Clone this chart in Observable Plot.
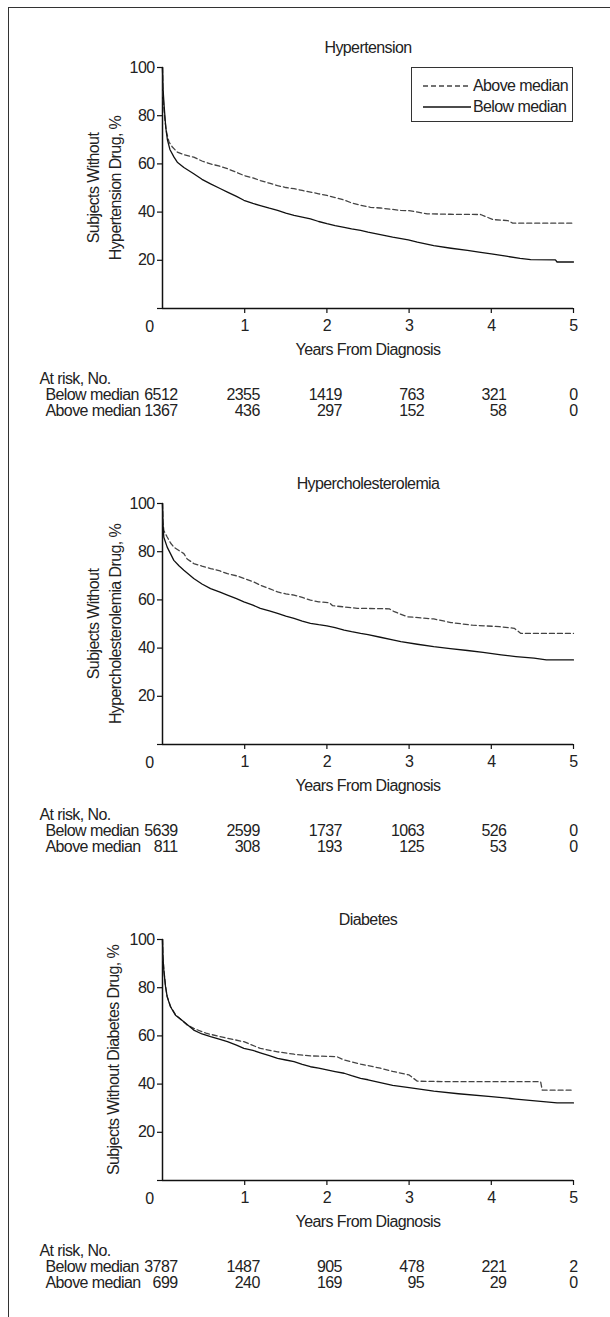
<!DOCTYPE html>
<html>
<head>
<meta charset="utf-8">
<script src="https://cdn.jsdelivr.net/npm/d3@7"></script>
<script src="https://cdn.jsdelivr.net/npm/@observablehq/plot@0.6"></script>
<style>
  html, body { margin: 0; padding: 0; background: #fff; overflow: hidden; }
  body { width: 610px; height: 1317px; position: relative;
         font-family: "Liberation Sans", Arial, sans-serif; color: #222; }
  #frame { position: absolute; left: 8px; top: 7px; width: 800px; height: 1400px; z-index: 5;
           border-left: 1.5px solid #333; border-top: 1.5px solid #333; pointer-events: none; }
  .panel { position: absolute; left: 0; width: 610px; height: 436px; }
  .legend { position: absolute; left: 411px; top: 67px; width: 162px; height: 55px;
            border: 1px solid #333; background: #fff; box-sizing: border-box;
            font-size: 16px; letter-spacing: -0.6px; white-space: nowrap; }
  .legend .row { position: absolute; left: 0; height: 20px; display: flex; align-items: center; }
  .legend svg { width: 51px; height: 20px; margin-left: 9px; flex: none; }
  .legend span { margin-left: 1px; line-height: 20px; }
</style>
</head>
<body>
<div id="root"></div>
<div id="frame"></div>
<script>
// ---- Data ----
const years = [0, 1, 2, 3, 4, 5];
const groups = ["Below median", "Above median"];
const titles = ["Hypertension", "Hypercholesterolemia", "Diabetes"];
const yLabels = [
  ["Subjects Without", "Hypertension Drug, %"],
  ["Subjects Without", "Hypercholesterolemia Drug, %"],
  ["Subjects Without Diabetes Drug, %"]
];
const yTicks = [0, 20, 40, 60, 80, 100];
const xTicks = [1, 2, 3, 4, 5];

// Kaplan-Meier curves: [years, % without drug]
const hypertensionBelow = [[0,100],[0.005,92],[0.02,84],[0.04,75],[0.06,70],[0.09,66],[0.14,62.8],[0.18,60.7],[0.26,58.5],[0.38,55.9],[0.48,53.6],[0.585,51.7],[0.7,49.8],[0.79,48.3],[0.9,46.5],[0.99,44.9],[1.1,43.6],[1.19,42.7],[1.3,41.6],[1.4,40.7],[1.5,39.6],[1.6,38.6],[1.7,37.9],[1.8,37.2],[1.9,36.1],[2.0,35.2],[2.1,34.4],[2.21,33.7],[2.3,33.0],[2.41,32.4],[2.5,31.7],[2.65,30.7],[2.8,29.6],[2.99,28.5],[3.1,27.5],[3.3,26.1],[3.51,25.0],[3.71,24.1],[3.85,23.4],[4.0,22.7],[4.2,21.6],[4.35,20.8],[4.48,20.3],[4.78,20.2],[4.8,19.3],[5.0,19.3]];
const hypertensionAbove = [[0,100],[0.005,90],[0.015,84],[0.03,78],[0.05,73],[0.08,69],[0.12,67],[0.18,64.9],[0.26,63.8],[0.38,62.8],[0.48,61.2],[0.585,60.0],[0.7,59.0],[0.79,58.0],[0.9,56.5],[0.99,55.2],[1.1,54.2],[1.19,53.1],[1.3,52],[1.4,51.0],[1.5,50.2],[1.6,49.7],[1.7,49.0],[1.8,48.3],[1.9,47.6],[2.0,46.9],[2.1,46.0],[2.21,45.0],[2.3,43.8],[2.41,42.8],[2.53,42.0],[2.65,41.7],[2.9,40.7],[3.0,40.6],[3.22,39.3],[3.5,39.1],[3.87,39.0],[4.02,36.9],[4.2,36.5],[4.26,35.4],[5.0,35.4]];
const cholesterolBelow = [[0,100],[0.005,92],[0.016,86],[0.057,81.9],[0.1,79],[0.138,76.4],[0.2,74.2],[0.26,72.3],[0.38,68.9],[0.48,66.6],[0.585,64.7],[0.7,63.2],[0.79,62.0],[0.9,60.5],[0.99,59.2],[1.1,57.8],[1.19,56.5],[1.3,55.4],[1.4,54.4],[1.5,53.3],[1.6,52.3],[1.7,51.2],[1.8,50.3],[1.9,49.7],[2.0,49.2],[2.1,48.5],[2.21,47.5],[2.3,46.8],[2.41,46.1],[2.5,45.6],[2.65,44.5],[2.8,43.4],[2.9,42.7],[3.1,41.6],[3.3,40.6],[3.5,39.8],[3.71,39.0],[3.9,38.2],[4.12,37.2],[4.3,36.5],[4.52,35.8],[4.67,35.1],[5.0,35.1]];
const cholesterolAbove = [[0,100],[0.005,93],[0.016,88.8],[0.057,86.1],[0.1,83.5],[0.138,81.9],[0.2,80.5],[0.26,79.2],[0.3,77],[0.38,75.1],[0.48,74],[0.585,73.0],[0.7,72],[0.79,70.9],[0.9,70],[0.99,68.9],[1.1,67.6],[1.19,66.1],[1.3,64.7],[1.4,63.3],[1.5,62.5],[1.6,62.0],[1.7,61],[1.8,59.9],[1.9,59.2],[2.03,58.8],[2.07,57.6],[2.37,56.5],[2.76,56.3],[2.82,55.1],[2.98,53.0],[3.3,52.1],[3.51,50.6],[3.77,49.5],[4.1,48.9],[4.28,48.2],[4.36,46.1],[5.0,46.1]];
const diabetesBelow = [[0,100],[0.005,93],[0.016,87.3],[0.037,80.4],[0.057,76.2],[0.097,72.1],[0.158,68.6],[0.26,65.9],[0.38,62.4],[0.48,60.8],[0.585,59.7],[0.7,58.6],[0.79,57.6],[0.9,56.2],[0.99,54.8],[1.1,54],[1.19,53.0],[1.3,51.8],[1.4,50.7],[1.5,50],[1.6,49.3],[1.7,48.2],[1.8,47.2],[1.9,46.6],[2.0,45.9],[2.1,45.2],[2.21,44.5],[2.3,43.5],[2.41,42.4],[2.5,41.8],[2.65,40.6],[2.8,39.5],[3.0,38.5],[3.3,37.1],[3.6,36.0],[4.0,34.8],[4.3,33.8],[4.6,32.8],[4.8,32.2],[5.0,32.2]];
const diabetesAbove = [[0,100],[0.005,93],[0.016,87.5],[0.037,80.6],[0.057,76.4],[0.097,72.3],[0.158,68.8],[0.3,64.5],[0.38,63.1],[0.54,61.0],[0.79,59.0],[0.99,57.6],[1.19,54.8],[1.4,53.4],[1.6,52.4],[1.8,51.7],[2.12,51.4],[2.21,50.0],[2.41,48.3],[2.65,46.6],[2.8,45.3],[3.0,43.8],[3.1,41.2],[3.5,41],[4.6,41],[4.62,37.5],[5.0,37.5]];

// Numbers at risk (columns = years)
const hypertensionRiskBelow = [6512, 2355, 1419, 763, 321, 0];
const hypertensionRiskAbove = [1367, 436, 297, 152, 58, 0];
const cholesterolRiskBelow = [5639, 2599, 1737, 1063, 526, 0];
const cholesterolRiskAbove = [811, 308, 193, 125, 53, 0];
const diabetesRiskBelow = [3787, 1487, 905, 478, 221, 2];
const diabetesRiskAbove = [699, 240, 169, 95, 29, 0];

const panels = [
  {title: titles[0], yLabel: yLabels[0], below: hypertensionBelow, above: hypertensionAbove, riskBelow: hypertensionRiskBelow, riskAbove: hypertensionRiskAbove},
  {title: titles[1], yLabel: yLabels[1], below: cholesterolBelow, above: cholesterolAbove, riskBelow: cholesterolRiskBelow, riskAbove: cholesterolRiskAbove},
  {title: titles[2], yLabel: yLabels[2], below: diabetesBelow, above: diabetesAbove, riskBelow: diabetesRiskBelow, riskAbove: diabetesRiskAbove}
];

const FONT = '"Liberation Sans", Arial, sans-serif';
const INK = "#222";
const root = document.getElementById("root");

panels.forEach((p, i) => {
  const wrap = document.createElement("div");
  wrap.className = "panel";
  wrap.style.top = (i * 436) + "px";

  const riskRows = [];
  years.forEach((yr, j) => {
    riskRows.push({year: yr, group: groups[0], n: p.riskBelow[j]});
    riskRows.push({year: yr, group: groups[1], n: p.riskAbove[j]});
  });
  const rowDy = {[groups[0]]: 86, [groups[1]]: 102};
  const T = {fill: INK, lineAnchor: "middle"};

  const yLabelMarks = p.yLabel.length === 2
    ? [
        Plot.text([p.yLabel[0]], {...T, frameAnchor: "left", textAnchor: "middle", rotate: -90, dx: -69}),
        Plot.text([p.yLabel[1]], {...T, frameAnchor: "left", textAnchor: "middle", rotate: -90, dx: -47})
      ]
    : [Plot.text([p.yLabel[0]], {...T, frameAnchor: "left", textAnchor: "middle", rotate: -90, dx: -49})];

  const riskMarks = groups.flatMap(g => [
    Plot.text(riskRows.filter(d => d.group === g && d.year < 5),
      {...T, x: "year", text: d => String(d.n), frameAnchor: "bottom", textAnchor: "end", dx: 15, dy: rowDy[g]}),
    Plot.text(riskRows.filter(d => d.group === g && d.year === 5),
      {...T, x: "year", text: d => String(d.n), frameAnchor: "bottom", textAnchor: "end", dx: 4, dy: rowDy[g]}),
    Plot.text([g], {...T, frameAnchor: "bottom-left", textAnchor: "start", dx: -117, dy: rowDy[g]})
  ]);

  const chart = Plot.plot({
    width: 610,
    height: 436,
    marginLeft: 162,
    marginRight: 37,
    marginTop: 67,
    marginBottom: 128,
    style: {fontFamily: FONT, fontSize: "16px", letterSpacing: "-0.6px", color: INK, background: "transparent", overflow: "visible"},
    x: {domain: [0, 5], axis: null},
    y: {domain: [0, 100], axis: null},
    marks: [
      Plot.axisY({ticks: yTicks, tickSize: 5, tickPadding: 3, tickFormat: d => d === 0 ? "" : String(d), label: null, fontSize: 16, stroke: "#111", strokeWidth: 1.2}),
      Plot.axisX({ticks: xTicks, tickSize: 5, tickPadding: 6, tickFormat: d => String(d), label: null, fontSize: 16, stroke: "#111", strokeWidth: 1.2}),
      Plot.text([0], {...T, x: d => d, text: d => String(d), frameAnchor: "bottom", dy: 18, dx: -13}),
      Plot.ruleX([0], {y1: 0, y2: 100, stroke: "#111", strokeWidth: 1.5}),
      Plot.ruleY([0], {x1: 0, x2: 5, stroke: "#111", strokeWidth: 1.3}),
      Plot.line(p.above, {x: d => d[0], y: d => d[1], stroke: "#444", strokeWidth: 1.3, strokeDasharray: "5,3"}),
      Plot.line(p.below, {x: d => d[0], y: d => d[1], stroke: "#111", strokeWidth: 1.3}),
      Plot.text([p.title], {...T, frameAnchor: "top", dy: -20}),
      Plot.text(["Years From Diagnosis"], {...T, frameAnchor: "bottom", dy: 41}),
      ...yLabelMarks,
      Plot.text(["At risk, No."], {...T, frameAnchor: "bottom-left", textAnchor: "start", dx: -123, dy: 70}),
      ...riskMarks
    ]
  });
  wrap.appendChild(chart);

  if (i === 0) {
    const lg = document.createElement("div");
    lg.className = "legend";
    lg.innerHTML =
      '<div class="row" style="top:8px"><svg><line x1="2" x2="47" y1="10" y2="10" stroke="#444" stroke-width="1.3" stroke-dasharray="5,3"/></svg><span>' + groups[1] + '</span></div>' +
      '<div class="row" style="top:29px"><svg><line x1="2" x2="50" y1="10" y2="10" stroke="#111" stroke-width="1.3"/></svg><span>' + groups[0] + '</span></div>';
    wrap.appendChild(lg);
  }
  root.appendChild(wrap);
});
</script>
</body>
</html>
